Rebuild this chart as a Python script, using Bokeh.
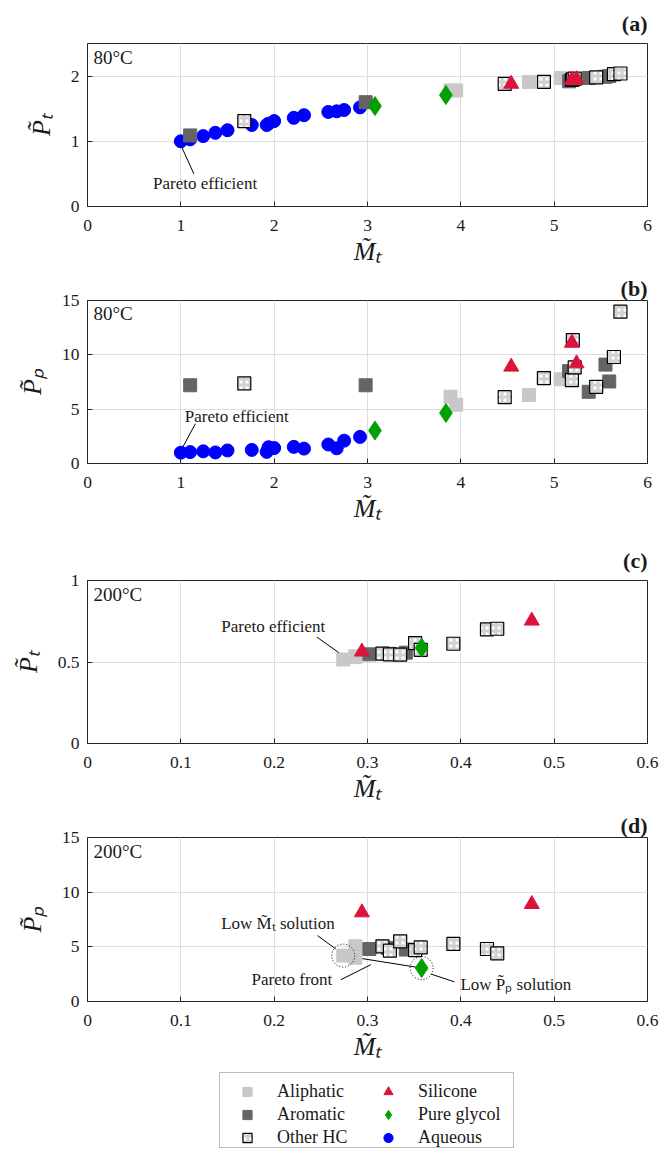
import numpy as np
from bokeh.plotting import figure
from bokeh.models import (Range1d, FixedTicker, Label, Legend, LegendItem, BoxAnnotation)
from bokeh.layouts import column
from bokeh.embed import file_html
from bokeh.resources import INLINE

# ---------------- data: 80 C ----------------
aq_mt_80 = [1.00, 1.10, 1.24, 1.37, 1.50, 1.76, 1.92, 1.94, 2.00, 2.21, 2.32, 2.58, 2.67, 2.75, 2.92]
aq_pt_80 = [1.00, 1.03, 1.08, 1.13, 1.17, 1.25, 1.25, 1.27, 1.31, 1.36, 1.40, 1.45, 1.46, 1.48, 1.52]
aq_pp_80 = [1.00, 1.05, 1.12, 1.02, 1.20, 1.25, 1.07, 1.50, 1.42, 1.53, 1.37, 1.75, 1.40, 2.10, 2.45]

ali_mt_80 = [3.89, 3.95, 4.73, 5.07]
ali_pt_80 = [1.78, 1.78, 1.91, 1.97]
ali_pp_80 = [6.15, 5.40, 6.30, 7.75]

aro_mt_80 = [1.10, 2.98, 5.16, 5.37, 5.55, 5.59]
aro_pt_80 = [1.09, 1.60, 1.92, 1.97, 1.99, 2.00]
aro_pp_80 = [7.20, 7.20, 8.50, 6.60, 9.10, 7.55]

oth_mt_80 = [1.68, 4.47, 4.89, 5.19, 5.20, 5.22, 5.45, 5.64, 5.71]
oth_pt_80 = [1.31, 1.88, 1.91, 1.94, 1.95, 1.96, 1.98, 2.03, 2.04]
oth_pp_80 = [7.37, 6.10, 7.86, 7.68, 11.35, 8.84, 7.06, 9.80, 13.97]

sil_mt_80 = [4.54, 5.19, 5.24]
sil_pt_80 = [1.88, 1.94, 1.95]
sil_pp_80 = [8.90, 11.10, 9.20]

gly_mt_80 = [3.08, 3.84]
gly_pt_80 = [1.54, 1.71]
gly_pp_80 = [3.03, 4.65]

# ---------------- data: 200 C ----------------
aq_mt_200, aq_pt_200, aq_pp_200 = [], [], []

ali_mt_200 = [0.274, 0.287, 0.287]
ali_pt_200 = [0.515, 0.535, 0.530]
ali_pp_200 = [4.20, 5.05, 4.00]

aro_mt_200 = [0.302, 0.322, 0.341]
aro_pt_200 = [0.547, 0.550, 0.557]
aro_pp_200 = [4.80, 4.90, 4.75]

oth_mt_200 = [0.316, 0.324, 0.335, 0.351, 0.357, 0.392, 0.428, 0.439]
oth_pt_200 = [0.551, 0.547, 0.545, 0.616, 0.575, 0.612, 0.700, 0.704]
oth_pp_200 = [5.05, 4.65, 5.50, 4.70, 4.95, 5.27, 4.80, 4.40]

sil_mt_200 = [0.294, 0.476]
sil_pt_200 = [0.563, 0.753]
sil_pp_200 = [8.14, 8.90]

gly_mt_200 = [0.358]
gly_pt_200 = [0.588]
gly_pp_200 = [3.06]

# ---------------- ticks ----------------
x_ticks_80 = [0, 1, 2, 3, 4, 5, 6]
x_labels_80 = ["0", "1", "2", "3", "4", "5", "6"]
x_ticks_200 = [0, 0.1, 0.2, 0.3, 0.4, 0.5, 0.6]
x_labels_200 = ["0", "0.1", "0.2", "0.3", "0.4", "0.5", "0.6"]
y_ticks_pt80 = [0, 1, 2]
y_labels_pt80 = ["0", "1", "2"]
y_ticks_pp = [0, 5, 10, 15]
y_labels_pp = ["0", "5", "10", "15"]
y_ticks_pt200 = [0, 0.5, 1]
y_labels_pt200 = ["0", "0.5", "1"]

series_names = ["Aliphatic", "Aromatic", "Other HC", "Silicone", "Pure glycol", "Aqueous"]

FONT = "Liberation Serif"
INK = "#1a1a1a"
C_ALI = "#c8c8c8"
C_ARO = "#646464"
C_SIL = "#dc143c"
C_GLY = "#00a000"
C_AQ = "#0000ff"

M_LABEL = "M\u0303\u209c"
PT_LABEL = "P\u0303\u209c"
PP_LABEL = "P\u0303\u209a"


def make_panel(height, top, bottom, xr, yr, xt, xl, yt, yl, ylab, tag, temp, tag_standoff):
    p = figure(width=661, height=height, x_range=Range1d(*xr), y_range=Range1d(*yr),
               output_backend="svg", toolbar_location=None,
               min_border_left=87, min_border_right=14,
               min_border_top=top, min_border_bottom=bottom)
    p.background_fill_color = "white"
    p.border_fill_color = "white"
    p.outline_line_color = "#262626"
    p.outline_line_width = 1
    p.outline_line_alpha = 1

    p.title.text = tag
    p.title.align = "right"
    p.title.text_font = FONT
    p.title.text_font_size = "22px"
    p.title.text_font_style = "bold"
    p.title.text_color = INK
    p.title.standoff = tag_standoff
    p.title.offset = 0

    p.xaxis.ticker = FixedTicker(ticks=xt)
    p.xaxis.major_label_overrides = {t: l for t, l in zip(xt, xl)}
    p.yaxis.ticker = FixedTicker(ticks=yt)
    p.yaxis.major_label_overrides = {t: l for t, l in zip(yt, yl)}
    for ax in (p.xaxis[0], p.yaxis[0]):
        ax.major_tick_in = 5
        ax.major_tick_out = 0
        ax.minor_tick_line_color = None
        ax.axis_line_color = None
        ax.major_tick_line_color = "#262626"
        ax.major_label_text_font = FONT
        ax.major_label_text_font_size = "17.5px"
        ax.major_label_text_color = INK
        ax.axis_label_text_font = FONT
        ax.axis_label_text_font_size = "26px"
        ax.axis_label_text_font_style = "italic"
        ax.axis_label_text_color = INK
    p.xaxis.axis_label = M_LABEL
    p.xaxis.major_label_standoff = 13
    p.xaxis.axis_label_standoff = 3
    p.yaxis.axis_label = ylab
    p.yaxis.major_label_standoff = 8
    p.yaxis.axis_label_standoff = 12

    p.grid.grid_line_color = "#dedede"
    p.grid.grid_line_width = 1

    fh = height - top - bottom
    p.add_layout(Label(x=6, y=fh - 3, x_units="screen", y_units="screen", text=temp,
                       text_align="left", text_baseline="top", text_font=FONT,
                       text_font_size="19px", text_color=INK))
    return p


def add_series(p, ali, aro, oth, sil, gly, aq):
    r_aq = p.scatter(aq[0], aq[1], marker="circle", size=13, fill_color=C_AQ, line_color=C_AQ)
    r_ali = p.scatter(ali[0], ali[1], marker="square", size=13, fill_color=C_ALI, line_color=C_ALI)
    r_aro = p.scatter(aro[0], aro[1], marker="square", size=13, fill_color=C_ARO, line_color=C_ARO)
    r_oth = p.scatter(oth[0], oth[1], marker="square", size=13, fill_color="white",
                      line_color="black", line_width=1.2,
                      hatch_pattern="cross", hatch_color="#d0d0d0", hatch_scale=6, hatch_weight=3)
    r_sil = p.scatter(sil[0], sil[1], marker="triangle", size=15, fill_color=C_SIL, line_color=C_SIL)
    r_gly = p.scatter(gly[0], gly[1], marker="diamond", size=19, fill_color=C_GLY, line_color=C_GLY)
    return r_ali, r_aro, r_oth, r_sil, r_gly, r_aq


def note(p, text, x, y, size="17px"):
    p.add_layout(Label(x=x, y=y, text=text, text_align="center", text_baseline="middle",
                       text_font=FONT, text_font_size=size, text_color=INK))


def leader(p, x0, y0, x1, y1):
    p.segment(x0=[x0], y0=[y0], x1=[x1], y1=[y1], line_color="black", line_width=1)


# ---------------- panel (a) ----------------
pa = make_panel(273, 43, 67, (0, 6), (0, 2.5), x_ticks_80, x_labels_80,
                y_ticks_pt80, y_labels_pt80, PT_LABEL, "(a)", "80°C", 16)
leader(pa, 1.01, 0.91, 1.14, 0.50)
add_series(pa, (ali_mt_80, ali_pt_80), (aro_mt_80, aro_pt_80), (oth_mt_80, oth_pt_80),
           (sil_mt_80, sil_pt_80), (gly_mt_80, gly_pt_80), (aq_mt_80, aq_pt_80))
note(pa, "Pareto efficient", 1.26, 0.36)

# ---------------- panel (b) ----------------
pb = make_panel(264, 26, 74, (0, 6), (0, 15), x_ticks_80, x_labels_80,
                y_ticks_pp, y_labels_pp, PP_LABEL, "(b)", "80°C", 0)
leader(pb, 1.156, 3.66, 1.012, 1.37)
add_series(pb, (ali_mt_80, ali_pp_80), (aro_mt_80, aro_pp_80), (oth_mt_80, oth_pp_80),
           (sil_mt_80, sil_pp_80), (gly_mt_80, gly_pp_80), (aq_mt_80, aq_pp_80))
note(pb, "Pareto efficient", 1.60, 4.35)

# ---------------- panel (c) ----------------
pc = make_panel(273, 43, 67, (0, 0.6), (0, 1), x_ticks_200, x_labels_200,
                y_ticks_pt200, y_labels_pt200, PT_LABEL, "(c)", "200°C", 15)
leader(pc, 0.2457, 0.653, 0.2732, 0.541)
add_series(pc, (ali_mt_200, ali_pt_200), (aro_mt_200, aro_pt_200), (oth_mt_200, oth_pt_200),
           (sil_mt_200, sil_pt_200), (gly_mt_200, gly_pt_200), (aq_mt_200, aq_pt_200))
note(pc, "Pareto efficient", 0.199, 0.715)

# ---------------- panel (d) ----------------
pd_ = make_panel(258, 27, 67, (0, 0.6), (0, 15), x_ticks_200, x_labels_200,
                 y_ticks_pp, y_labels_pp, PP_LABEL, "(d)", "200°C", 0)
leader(pd_, ali_mt_200[0], ali_pp_200[0], gly_mt_200[0], gly_pp_200[0])
leader(pd_, 0.2464, 6.03, 0.266, 4.80)
leader(pd_, 0.2714, 1.99, 0.3036, 3.37)
leader(pd_, 0.368, 2.51, 0.393, 1.80)
add_series(pd_, (ali_mt_200, ali_pp_200), (aro_mt_200, aro_pp_200), (oth_mt_200, oth_pp_200),
           (sil_mt_200, sil_pp_200), (gly_mt_200, gly_pp_200), (aq_mt_200, aq_pp_200))
pd_.scatter([ali_mt_200[0], gly_mt_200[0]], [ali_pp_200[0], gly_pp_200[0]], marker="circle",
            size=23, fill_color=None, line_color="black", line_width=1, line_dash="1 2")
note(pd_, "Low " + M_LABEL + " solution", 0.2041, 7.13)
note(pd_, "Pareto front", 0.219, 2.05)
note(pd_, "Low " + PP_LABEL + " solution", 0.459, 1.60)

# ---------------- legend strip (series drawn off-range; only their legend swatches show) ----
LH = 83
pl = figure(width=661, height=LH, x_range=Range1d(-3, -2), y_range=Range1d(-3, -2),
            output_backend="svg", toolbar_location=None, x_axis_type=None, y_axis_type=None,
            min_border_left=87, min_border_right=14, min_border_top=0, min_border_bottom=0)
pl.outline_line_color = None
pl.grid.visible = False
rs = add_series(pl, (ali_mt_80, ali_pt_80), (aro_mt_80, aro_pt_80), (oth_mt_80, oth_pt_80),
                (sil_mt_80, sil_pt_80), (gly_mt_80, gly_pt_80), (aq_mt_80, aq_pt_80))

common = dict(label_text_font=FONT, label_text_font_size="18px", label_text_color=INK,
              glyph_width=30, glyph_height=23, label_height=23, label_standoff=15,
              spacing=0, padding=3, margin=0, border_line_color=None,
              background_fill_alpha=0)
leg1 = Legend(items=[LegendItem(label=n, renderers=[r]) for n, r in zip(series_names[:3], rs[:3])],
              location=(145, 2), **common)
leg2 = Legend(items=[LegendItem(label=n, renderers=[r]) for n, r in zip(series_names[3:], rs[3:])],
              location=(286, 2), **common)
pl.add_layout(leg1)
pl.add_layout(leg2)
pl.add_layout(BoxAnnotation(left=132, right=426, bottom=4, top=79,
                            left_units="screen", right_units="screen",
                            bottom_units="screen", top_units="screen",
                            fill_alpha=0, line_color="#262626", line_width=1))

layout = column(pa, pb, pc, pd_, pl, spacing=0)
open("out.html", "w").write(file_html(layout, INLINE))
